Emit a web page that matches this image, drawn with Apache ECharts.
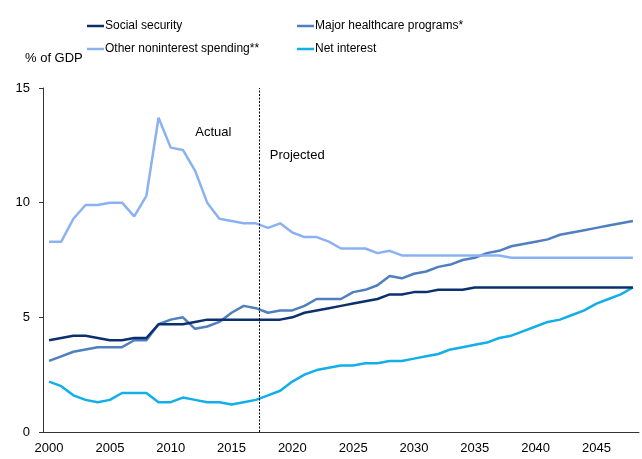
<!DOCTYPE html>
<html>
<head>
<meta charset="utf-8">
<script src="https://cdn.jsdelivr.net/npm/echarts@6/dist/echarts.min.js"></script>
<style>
  html, body { margin: 0; padding: 0; background: #fff; }
  #chart { width: 642px; height: 459px; }
</style>
</head>
<body>
<div id="chart"></div>
<script>
// Federal spending components, % of GDP, 2000-2048 (actual to 2017, projected after)
const years = [];
for (let y = 2000; y <= 2048; y++) years.push(String(y));

const socialSecurity = [
  4.0, 4.1, 4.2, 4.2, 4.1, 4.0, 4.0, 4.1, 4.1, 4.7,
  4.7, 4.7, 4.8, 4.9, 4.9, 4.9, 4.9, 4.9, 4.9, 4.9,
  5.0, 5.2, 5.3, 5.4, 5.5, 5.6, 5.7, 5.8, 6.0, 6.0,
  6.1, 6.1, 6.2, 6.2, 6.2, 6.3, 6.3, 6.3, 6.3, 6.3,
  6.3, 6.3, 6.3, 6.3, 6.3, 6.3, 6.3, 6.3, 6.3
];
const healthcare = [
  3.1, 3.3, 3.5, 3.6, 3.7, 3.7, 3.7, 4.0, 4.0, 4.7,
  4.9, 5.0, 4.5, 4.6, 4.8, 5.2, 5.5, 5.4, 5.2, 5.3,
  5.3, 5.5, 5.8, 5.8, 5.8, 6.1, 6.2, 6.4, 6.8, 6.7,
  6.9, 7.0, 7.2, 7.3, 7.5, 7.6, 7.8, 7.9, 8.1, 8.2,
  8.3, 8.4, 8.6, 8.7, 8.8, 8.9, 9.0, 9.1, 9.2
];
const otherNoninterest = [
  8.3, 8.3, 9.3, 9.9, 9.9, 10.0, 10.0, 9.4, 10.3, 13.7,
  12.4, 12.3, 11.4, 10.0, 9.3, 9.2, 9.1, 9.1, 8.9, 9.1,
  8.7, 8.5, 8.5, 8.3, 8.0, 8.0, 8.0, 7.8, 7.9, 7.7,
  7.7, 7.7, 7.7, 7.7, 7.7, 7.7, 7.7, 7.7, 7.6, 7.6,
  7.6, 7.6, 7.6, 7.6, 7.6, 7.6, 7.6, 7.6, 7.6
];
const netInterest = [
  2.2, 2.0, 1.6, 1.4, 1.3, 1.4, 1.7, 1.7, 1.7, 1.3,
  1.3, 1.5, 1.4, 1.3, 1.3, 1.2, 1.3, 1.4, 1.6, 1.8,
  2.2, 2.5, 2.7, 2.8, 2.9, 2.9, 3.0, 3.0, 3.1, 3.1,
  3.2, 3.3, 3.4, 3.6, 3.7, 3.8, 3.9, 4.1, 4.2, 4.4,
  4.6, 4.8, 4.9, 5.1, 5.3, 5.6, 5.8, 6.0, 6.3
];

const seriesNames = [
  'Social security',
  'Major healthcare programs*',
  'Other noninterest spending**',
  'Net interest'
];
const seriesColors = ['#0c2f6e', '#4f7fbf', '#8ab2f2', '#12aeea'];
const seriesValues = [socialSecurity, healthcare, otherNoninterest, netInterest];

// Boundary between actual and projected figures (fractional year)
const projectionStart = 2017.8;
const annotations = [
  { text: 'Actual', year: 2014.0, value: 13.05 },
  { text: 'Projected', year: 2020.9, value: 12.05 }
];

const baseFont = '"Liberation Sans", Arial, Helvetica, sans-serif';

const chart = echarts.init(document.getElementById('chart'), null, { renderer: 'canvas' });

const lineSeries = seriesNames.map((name, i) => ({
  name: name,
  type: 'line',
  data: seriesValues[i],
  xAxisIndex: 0,
  showSymbol: false,
  symbol: 'none',
  color: seriesColors[i],
  lineStyle: { width: 2.5, color: seriesColors[i] },
  z: 3 + (i === 0 ? 1 : 0)
}));

const legendCommon = {
  orient: 'vertical',
  top: 19,
  padding: 0,
  icon: 'rect',
  itemWidth: 17,
  itemHeight: 2.5,
  itemGap: 9,
  textStyle: {
    fontFamily: baseFont,
    fontSize: 12,
    color: '#000',
    lineHeight: 14,
    padding: [0, 0, 0, -4]
  },
  selectedMode: false
};

chart.setOption({
  animation: false,
  backgroundColor: '#fff',
  title: {
    text: '% of GDP',
    left: 25,
    top: 52,
    padding: 0,
    textStyle: { fontFamily: baseFont, fontSize: 13, fontWeight: 'normal', color: '#000' }
  },
  legend: [
    Object.assign({}, legendCommon, { left: 87, data: [seriesNames[0], seriesNames[2]] }),
    Object.assign({}, legendCommon, { left: 297, data: [seriesNames[1], seriesNames[3]] })
  ],
  grid: { left: 43, right: 3, top: 88, bottom: 27, containLabel: false },
  xAxis: [
    {
      type: 'category',
      data: years,
      boundaryGap: true,
      axisLine: { lineStyle: { color: '#333', width: 1 } },
      axisTick: { interval: 4, length: 4, lineStyle: { color: '#333' } },
      axisLabel: {
        interval: 4,
        margin: 10,
        fontFamily: baseFont,
        fontSize: 13,
        color: '#000'
      },
      splitLine: { show: false }
    },
    {
      type: 'value',
      min: 2000,
      max: 2049,
      show: false
    }
  ],
  yAxis: {
    type: 'value',
    min: 0,
    max: 15,
    interval: 5,
    axisLine: { show: true, lineStyle: { color: '#333', width: 1 } },
    axisTick: { show: true, length: 4, lineStyle: { color: '#333' } },
    axisLabel: { margin: 13, fontFamily: baseFont, fontSize: 13, color: '#000' },
    splitLine: { show: false }
  },
  series: lineSeries.concat([{
    name: 'divider',
    type: 'line',
    xAxisIndex: 1,
    data: [],
    silent: true,
    markLine: {
      silent: true,
      symbol: 'none',
      label: { show: false },
      lineStyle: { color: '#000', width: 1, type: [2, 1.5] },
      data: [{ xAxis: projectionStart }]
    },
    markPoint: {
      silent: true,
      symbol: 'rect',
      symbolSize: [1, 1],
      itemStyle: { color: 'rgba(0,0,0,0)' },
      label: {
        show: true,
        position: 'inside',
        fontFamily: baseFont,
        fontSize: 13,
        color: '#000',
        formatter: p => p.name
      },
      data: annotations.map(a => ({ name: a.text, coord: [a.year, a.value] }))
    }
  }])
});
</script>
</body>
</html>
